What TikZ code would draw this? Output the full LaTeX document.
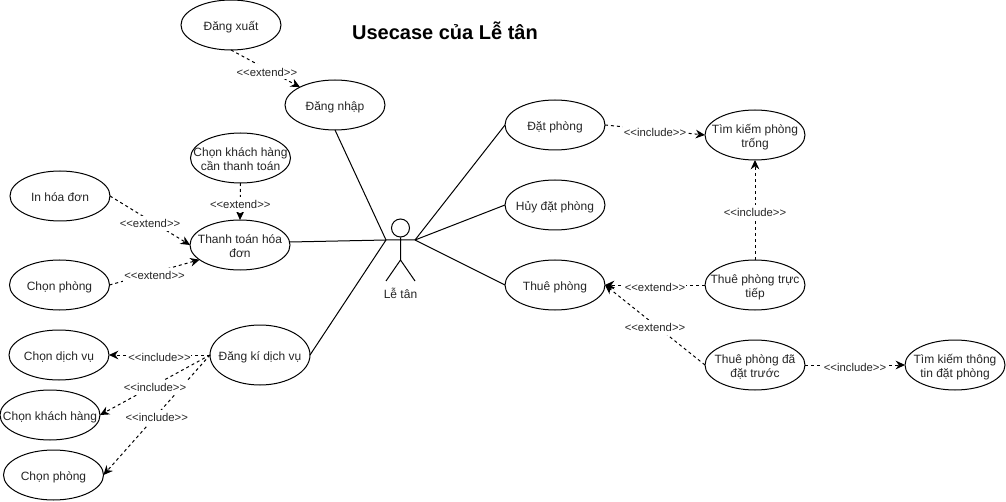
\documentclass[tikz,border=0pt]{standalone}
\usepackage{fontspec}
\setmainfont{Liberation Sans}
\usetikzlibrary{shapes.geometric,arrows.meta}
\newcommand{\uctext}[1]{\makebox[0pt]{\raisebox{-4.25pt}[0pt][0pt]{\begin{tabular}{@{}c@{}}#1\end{tabular}}}}
\newcommand{\extlabel}{{<}{<}extend{>}{>}}
\newcommand{\inclabel}{{<}{<}include{>}{>}}
\tikzset{
  uc/.style={draw=black,line width=0.75pt,ellipse,inner sep=0pt,outer sep=0pt,minimum width=75pt,minimum height=37.5pt,fill=white,text=black!85,font=\fontsize{9}{10.5}\selectfont},
  assoc/.style={draw=black,line width=0.75pt},
  dep/.style={draw=black,line width=0.75pt,dash pattern=on 2.25pt off 2.25pt,-{Stealth[length=7pt,width=6.5pt]}},
  deplabel/.style={fill=white,inner xsep=0.6pt,inner ysep=2.5pt,yshift=-2pt,text=black!85,font=\fontsize{8.5}{10}\selectfont},
}
\begin{document}
\begin{tikzpicture}[x=0.75pt,y=-0.75pt]
\useasboundingbox (0,0) rectangle (1006,502);
\fill[white] (0,0) rectangle (1006,502);
\node[font=\bfseries\fontsize{15}{18}\selectfont] (title) at (445,31) {Usecase của Lễ tân};
% use cases
\node[uc] (dx) at (231,25) {\uctext{Đăng xuất}};
\node[uc] (dn) at (335,105) {\uctext{Đăng nhập}};
\node[uc] (ck) at (240.5,158) {\uctext{Chọn khách hàng\\cần thanh toán}};
\node[uc] (tt) at (240,245) {\uctext{Thanh toán hóa\\đơn}};
\node[uc] (in) at (60,196) {\uctext{In hóa đơn}};
\node[uc] (cp) at (59.5,285) {\uctext{Chọn phòng}};
\node[uc] (cd) at (59,355) {\uctext{Chọn dịch vụ}};
\node[uc,minimum height=45pt] (dk) at (260,355) {\uctext{Đăng kí dịch vụ}};
\node[uc] (kh) at (50,415) {\uctext{Chọn khách hàng}};
\node[uc] (cq) at (53.5,475) {\uctext{Chọn phòng}};
\node[uc] (dp) at (555,125) {\uctext{Đặt phòng}};
\node[uc] (hd) at (555,205) {\uctext{Hủy đặt phòng}};
\node[uc] (th) at (555,285) {\uctext{Thuê phòng}};
\node[uc] (tk) at (755,135) {\uctext{Tìm kiếm phòng\\trống}};
\node[uc] (tr) at (755,285) {\uctext{Thuê phòng trực\\tiếp}};
\node[uc] (td) at (755,365) {\uctext{Thuê phòng đã\\đặt trước}};
\node[uc] (ti) at (955,365) {\uctext{Tìm kiếm thông\\tin đặt phòng}};
% actor
\node[circle,draw=black,line width=0.75pt,inner sep=0pt,minimum size=13.5pt] (head) at (400.5,228) {};
\coordinate (hip) at (400.5,260);
\coordinate (al) at (386,240);
\coordinate (ar) at (415,240);
\coordinate (ll) at (386,281);
\coordinate (lr) at (415,281);
\draw[assoc] (head.south) -- (hip) (al) -- (ar) (hip) -- (ll) (hip) -- (lr);
\node[text=black!85,font=\fontsize{9}{10.5}\selectfont] (actor) at (400.5,293) {Lễ tân};
% associations
\draw[assoc] (dn.south) -- (al);
\draw[assoc] (tt.east) ++(0,-3) -- (al);
\draw[assoc] (dk.east) -- (al);
\draw[assoc] (dp.west) -- (ar);
\draw[assoc] (hd.west) -- (ar);
\draw[assoc] (th.west) -- (ar);
% dependencies
\draw[dep] (dx.south) -- node[deplabel,pos=0.52] {\extlabel} (dn.153);
\draw[dep] (ck.south) -- node[deplabel] {\extlabel} (tt.north);
\draw[dep] (in.east) -- node[deplabel] {\extlabel} (tt.west);
\draw[dep] (cp.east) -- node[deplabel] {\extlabel} (tt.200);
\draw[dep] (dk.west) -- node[deplabel,pos=0.5] {\inclabel} (cq.east);
\draw[dep] (dk.west) -- node[deplabel] {\inclabel} (kh.east);
\draw[dep] (dk.west) -- node[deplabel] {\inclabel} (cd.east);
\draw[dep] (dp.east) -- node[deplabel] {\inclabel} (tk.west);
\draw[dep] (tr.north) -- node[deplabel] {\inclabel} (tk.south);
\draw[dep] (td.west) -- node[deplabel] {\extlabel} (th.east);
\draw[dep] (tr.west) -- node[deplabel] {\extlabel} (th.east);
\draw[dep] (td.east) -- node[deplabel] {\inclabel} (ti.west);
\end{tikzpicture}
\end{document}
